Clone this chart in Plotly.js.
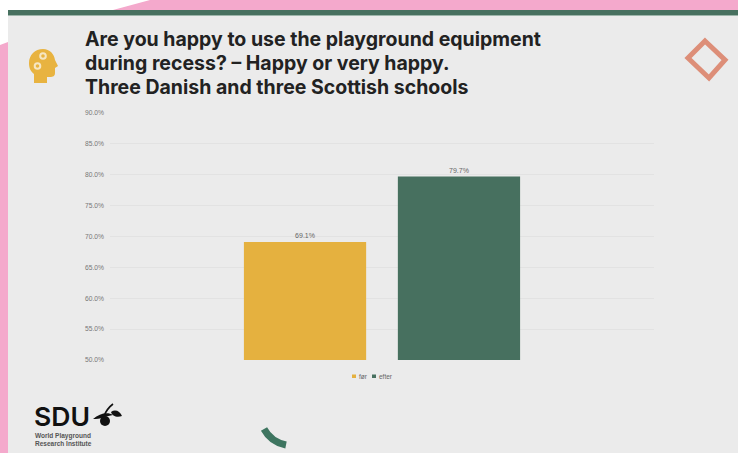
<!DOCTYPE html>
<html>
<head>
<meta charset="utf-8">
<script src="https://cdn.plot.ly/plotly-3.0.1.min.js"></script>
<style>
  html, body { margin: 0; padding: 0; background: #ffffff; overflow: hidden; }
  #stage { position: relative; width: 738px; height: 453px; }
  #slide, #chart { position: absolute; left: 0; top: 0; width: 738px; height: 453px; }
</style>
</head>
<body>
<div id="stage">
  <!-- Slide background, brand shapes and logo -->
  <svg id="slide" viewBox="0 0 738 453" xmlns="http://www.w3.org/2000/svg">
    <rect width="738" height="453" fill="#F4A9CC"/>
    <polygon points="0,0 150,0 113,10 8,42 0,45" fill="#ffffff"/>
    <rect x="8" y="10" width="730" height="443" fill="#EBEBEB"/>
    <rect x="8" y="10" width="730" height="5" fill="#47705F"/>
    <rect x="8" y="15" width="730" height="1" fill="#9DB5AA"/>

    <!-- Head with gears -->
    <path d="M34 83 L34 74 C30 71 29 67 29 63 C29 55 35 49 43 49 C50 49 54 54 55 60 L58 66 L55 68 L55 73 C55 76 53 77 50 77 L47 77 L47 83 Z" fill="#E8B340"/>
    <circle cx="43" cy="56" r="2.8" fill="#E8B340" stroke="#F6E6C2" stroke-width="2"/>
    <circle cx="37.500" cy="66" r="2.8" fill="#E8B340" stroke="#F6E6C2" stroke-width="2"/>

    <!-- Outlined diamond -->
    <polygon points="705,41 725,60 709,78 688,58" fill="none" stroke="#DD8E78" stroke-width="5"/>

    <!-- Curved accent -->
    <path d="M264 429 Q271 442 286 445" fill="none" stroke="#3E7560" stroke-width="7"/>

    <!-- Logo -->
    <text x="34" y="425.500" font-family="Inter, 'Liberation Sans', sans-serif" font-size="26" font-weight="600" fill="#111111" textLength="56" lengthAdjust="spacingAndGlyphs">SDU</text>
    <path d="M93 419 C100 413 108 412 113 415 L104 417 C100 419 96 419 93 419 Z" fill="#111111"/>
    <path d="M111 412 C115 409 120 411 122 416 C117 418 112 416 111 412 Z" fill="#111111"/>
    <path d="M104 416 C106 411 109 407 113 404" fill="none" stroke="#111111" stroke-width="1.6"/>
    <circle cx="105" cy="421" r="5" fill="#111111"/>
    <text x="35" y="438" font-family="'Liberation Sans', sans-serif" font-size="6.5" font-weight="700" fill="#555555">World Playground</text>
    <text x="35" y="445.500" font-family="'Liberation Sans', sans-serif" font-size="6.5" font-weight="700" fill="#555555">Research Institute</text>
  </svg>
  <div id="chart"></div>
</div>
<script>
// Share of pupils answering "happy" or "very happy", before and after
const periods = ["før", "efter"];
const shares = [69.1, 79.7];
const barColors = ["#E5B13F", "#47705F"];
const category = [""];
const tickValues = [50, 55, 60, 65, 70, 75, 80, 85, 90];
const titleLines = [
  "Are you happy to use the playground equipment",
  "during recess? – Happy or very happy.",
  "Three Danish and three Scottish schools"
];
const legendSwatchLeft = [352, 372];
const titleLineCentres = [39, 63, 87];

const W = 738, H = 453;

const traces = periods.map((name, i) => ({
  type: "bar",
  name: name,
  x: category,
  y: [shares[i]],
  marker: { color: barColors[i] },
  text: [shares[i].toFixed(1) + "%"],
  textposition: "outside",
  cliponaxis: false,
  textfont: { family: "Liberation Sans, sans-serif", size: 7, color: "#666666" },
  showlegend: false
}));

// Slide headline, one annotation per line for a tight leading
const headline = titleLines.map((line, i) => ({
  xref: "paper",
  yref: "paper",
  x: (83 - 110) / 544,
  y: (360 - titleLineCentres[i]) / 247,
  xanchor: "left",
  yanchor: "middle",
  showarrow: false,
  align: "left",
  text: "<b>" + line + "</b>",
  font: { family: "Inter, sans-serif", size: 19.5, color: "#222222" }
}));

// Compact key beneath the bars
const keyLabels = periods.map((name, i) => ({
  xref: "paper",
  yref: "paper",
  x: (legendSwatchLeft[i] + 5 - 110) / 544,
  y: (360 - 376) / 247,
  xanchor: "left",
  yanchor: "middle",
  showarrow: false,
  text: name,
  font: { family: "Liberation Sans, sans-serif", size: 6.5, color: "#666666" }
}));
const keySwatches = periods.map((name, i) => ({
  type: "rect",
  xref: "paper",
  yref: "paper",
  x0: (legendSwatchLeft[i] - 110) / 544,
  x1: (legendSwatchLeft[i] + 4 - 110) / 544,
  y0: (360 - 374.500) / 247,
  y1: (360 - 378) / 247,
  fillcolor: barColors[i],
  line: { width: 0 }
}));

const layout = {
  width: W,
  height: H,
  paper_bgcolor: "rgba(0,0,0,0)",
  plot_bgcolor: "rgba(0,0,0,0)",
  margin: { l: 110, r: 84, t: 113, b: 93, pad: 0 },
  barmode: "group",
  bargap: 0.434,
  bargroupgap: 0.206,
  showlegend: false,
  annotations: headline.concat(keyLabels),
  shapes: keySwatches,
  xaxis: {
    showticklabels: false,
    showline: false,
    showgrid: false,
    zeroline: false,
    ticks: ""
  },
  yaxis: {
    range: [50, 90],
    tickvals: tickValues,
    ticktext: tickValues.map(v => v.toFixed(1) + "%"),
    tickfont: { family: "Liberation Sans, sans-serif", size: 6.7, color: "#777777" },
    gridcolor: "#E2E2E2",
    gridwidth: 1,
    zeroline: false,
    showline: false,
    ticks: "",
    ticklabelstandoff: 5
  }
};

Plotly.newPlot("chart", traces, layout, { displayModeBar: false, staticPlot: true });
</script>
</body>
</html>
